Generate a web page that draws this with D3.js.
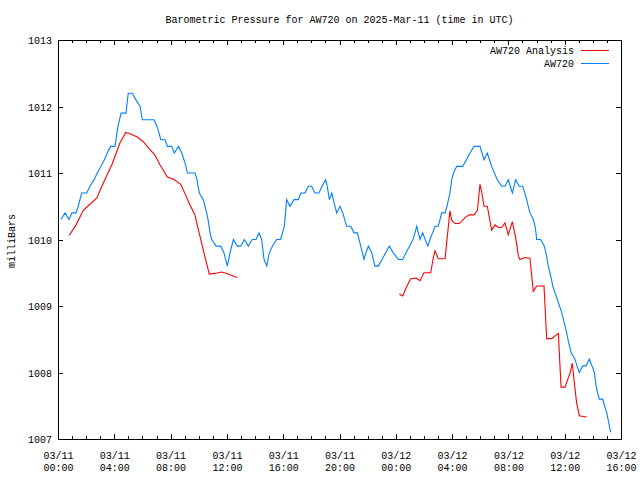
<!DOCTYPE html>
<html><head><meta charset="utf-8">
<script src="https://cdn.jsdelivr.net/npm/d3@7"></script>
<style>
body{margin:0;background:#fff;}
text{font-family:"Liberation Mono","DejaVu Sans Mono",monospace;font-size:10px;fill:#000;}
</style></head>
<body><svg id="c" width="640" height="480"></svg>
<script>
const title = "Barometric Pressure for AW720 on 2025-Mar-11 (time in UTC)";
const yLabel = "milliBars";
const seriesNames = ["AW720 Analysis", "AW720"];
const seriesColors = ["#ff0000", "#0080ff"];
const xTickHours = [0,4,8,12,16,20,24,28,32,36,40];
const xTickDates = ["03/11","03/11","03/11","03/11","03/11","03/11","03/12","03/12","03/12","03/12","03/12"];
const xTickTimes = ["00:00","04:00","08:00","12:00","16:00","20:00","00:00","04:00","08:00","12:00","16:00"];
const yTicks = [1007,1008,1009,1010,1011,1012,1013];

// AW720 station (hours since 03/11 00:00 UTC)
const blueHours = [0.21,0.50,0.78,0.99,1.28,1.44,1.68,2.04,2.27,2.56,2.79,3.06,3.29,3.50,3.74,4.05,4.26,4.48,4.83,4.99,5.28,5.54,5.83,5.99,6.82,7.03,7.18,7.30,7.60,7.77,8.08,8.26,8.55,8.79,8.95,9.09,9.19,9.73,9.88,9.95,10.04,10.32,10.44,10.56,10.66,10.73,10.80,10.92,11.23,11.56,11.79,11.91,12.03,12.22,12.46,12.74,12.98,13.24,13.52,13.80,14.07,14.28,14.47,14.64,14.83,15.01,15.23,15.54,15.82,16.08,16.25,16.48,16.77,17.07,17.26,17.55,17.78,18.02,18.26,18.54,18.76,19.02,19.13,19.28,19.45,19.56,19.80,20.04,20.23,20.37,20.51,20.80,21.03,21.27,21.51,21.74,21.88,22.05,22.29,22.52,22.76,23.02,23.28,23.54,23.82,24.18,24.49,24.73,24.97,25.22,25.36,25.49,25.72,25.91,26.27,26.43,26.61,26.79,27.02,27.26,27.50,27.64,27.74,27.85,27.97,28.10,28.33,28.75,29.02,29.27,29.56,29.98,30.27,30.50,30.81,31.01,31.21,31.52,31.76,31.99,32.28,32.52,32.77,33.02,33.16,33.30,33.41,33.53,33.77,33.89,33.96,34.01,34.29,34.55,34.67,34.75,34.83,34.95,35.06,35.15,35.31,35.47,35.63,35.79,35.91,36.02,36.14,36.23,36.34,36.45,36.73,36.87,37.04,37.28,37.51,37.75,37.94,38.11,38.23,38.33,38.46,38.70,38.83,38.98,39.08,39.17,39.27];
const bluePressure = [1010.3,1010.4,1010.3,1010.4,1010.4,1010.5,1010.7,1010.7,1010.8,1010.9,1011.0,1011.1,1011.2,1011.3,1011.4,1011.4,1011.7,1011.9,1011.9,1012.2,1012.2,1012.1,1012.0,1011.8,1011.8,1011.7,1011.6,1011.5,1011.5,1011.4,1011.4,1011.3,1011.4,1011.3,1011.2,1011.1,1011.0,1011.0,1010.9,1010.8,1010.7,1010.6,1010.5,1010.4,1010.3,1010.2,1010.1,1010.0,1009.9,1009.9,1009.8,1009.7,1009.6,1009.8,1010.0,1009.9,1009.9,1010.0,1009.9,1010.0,1010.0,1010.1,1010.0,1009.7,1009.6,1009.8,1009.9,1010.0,1010.0,1010.2,1010.6,1010.5,1010.6,1010.6,1010.7,1010.7,1010.8,1010.8,1010.7,1010.7,1010.8,1010.9,1010.8,1010.6,1010.7,1010.6,1010.4,1010.5,1010.4,1010.3,1010.2,1010.2,1010.1,1010.1,1009.9,1009.7,1009.8,1009.9,1009.8,1009.6,1009.6,1009.7,1009.8,1009.9,1009.8,1009.7,1009.7,1009.8,1009.9,1010.0,1010.1,1010.2,1010.0,1010.1,1009.9,1010.0,1010.1,1010.2,1010.2,1010.4,1010.4,1010.5,1010.6,1010.7,1010.9,1011.0,1011.1,1011.1,1011.2,1011.3,1011.4,1011.4,1011.2,1011.3,1011.1,1011.0,1010.9,1010.8,1010.8,1010.9,1010.7,1010.9,1010.8,1010.8,1010.7,1010.6,1010.5,1010.4,1010.3,1010.2,1010.1,1010.0,1010.0,1009.9,1009.8,1009.7,1009.6,1009.5,1009.4,1009.3,1009.2,1009.1,1009.0,1008.9,1008.8,1008.7,1008.6,1008.5,1008.4,1008.3,1008.2,1008.1,1008.0,1008.1,1008.1,1008.2,1008.1,1008.0,1007.8,1007.7,1007.6,1007.6,1007.5,1007.4,1007.3,1007.2,1007.1];

// AW720 Analysis (null = gap)
const redHours = [0.80,1.28,1.80,2.27,2.75,3.22,3.82,4.40,4.81,5.12,5.63,6.06,6.54,6.89,7.25,7.77,8.19,8.72,9.02,9.38,9.73,10.04,10.44,10.75,11.15,11.63,11.99,12.34,12.74,18.0,24.25,24.49,24.77,25.06,25.44,25.72,26.00,26.48,26.66,26.79,27.02,27.50,27.73,27.85,27.97,28.21,28.51,28.92,29.22,29.56,29.80,29.98,30.10,30.27,30.50,30.64,30.81,31.05,31.28,31.52,31.76,31.99,32.28,32.52,32.71,32.82,33.18,33.53,33.77,34.01,34.53,34.72,35.08,35.55,35.74,36.02,36.38,36.54,36.66,36.85,37.04,37.56];
const redPressure = [1010.06,1010.22,1010.44,1010.53,1010.62,1010.85,1011.12,1011.45,1011.61,1011.59,1011.54,1011.47,1011.35,1011.27,1011.12,1010.94,1010.91,1010.83,1010.69,1010.52,1010.37,1010.09,1009.74,1009.48,1009.49,1009.51,1009.49,1009.46,1009.43,null,1009.18,1009.15,1009.29,1009.41,1009.42,1009.38,1009.50,1009.50,1009.72,1009.83,1009.71,1009.71,1010.19,1010.43,1010.29,1010.24,1010.24,1010.33,1010.37,1010.37,1010.44,1010.83,1010.72,1010.50,1010.50,1010.34,1010.14,1010.22,1010.18,1010.18,1010.25,1010.07,1010.27,1010.02,1009.75,1009.70,1009.73,1009.72,1009.22,1009.30,1009.30,1008.51,1008.51,1008.59,1007.78,1007.78,1007.99,1008.14,1007.89,1007.54,1007.35,1007.33];

const L = 58, R = 621, T = 40, B = 439;
const svg = d3.select("#c");
svg.append("rect").attr("width",640).attr("height",480).attr("fill","#fff");

const x = d3.scaleLinear().domain([0,40]).range([L,R]);
const y = d3.scaleLinear().domain([1007,1013]).range([B,T]);

const g = svg.append("g").attr("shape-rendering","crispEdges");

// minor x ticks (hourly)
const minor = d3.range(0,41);
g.append("g").attr("transform",`translate(0,${B})`)
  .call(d3.axisBottom(x).tickValues(minor).tickSizeInner(-3).tickSizeOuter(0).tickFormat(""));
g.append("g").attr("transform",`translate(0,${T})`)
  .call(d3.axisTop(x).tickValues(minor).tickSizeInner(-3).tickSizeOuter(0).tickFormat(""));

// major x ticks
const xb = g.append("g").attr("transform",`translate(0,${B})`)
  .call(d3.axisBottom(x).tickValues(xTickHours).tickSizeInner(-5).tickSizeOuter(0).tickPadding(10).tickFormat(""));
g.append("g").attr("transform",`translate(0,${T})`)
  .call(d3.axisTop(x).tickValues(xTickHours).tickSizeInner(-5).tickSizeOuter(0).tickFormat(""));
xb.selectAll(".tick").each(function(d,i){
  const t = d3.select(this).select("text");
  t.attr("y",null).attr("dy",null).attr("text-anchor","middle");
  t.append("tspan").attr("x",0).attr("y",20).text(xTickDates[i]);
  t.append("tspan").attr("x",0).attr("y",32).text(xTickTimes[i]);
});

// y ticks
g.append("g").attr("transform",`translate(${L},0)`)
  .call(d3.axisLeft(y).tickValues(yTicks).tickSizeInner(-5).tickSizeOuter(0).tickPadding(6).tickFormat(d3.format("d")))
  .selectAll("text").attr("dy","0.35em");
g.append("g").attr("transform",`translate(${R},0)`)
  .call(d3.axisRight(y).tickValues(yTicks).tickSizeInner(-5).tickSizeOuter(0).tickFormat(""));

svg.selectAll(".domain").remove();
svg.selectAll(".tick line").attr("stroke","#000");
svg.selectAll(".tick text").style("font-family",'"Liberation Mono","DejaVu Sans Mono",monospace').style("font-size","10px").attr("fill","#000");

// frame
g.append("rect").attr("x",L).attr("y",T).attr("width",R-L).attr("height",B-T)
  .attr("fill","none").attr("stroke","#000").attr("stroke-width",1);

// data lines
const blue = blueHours.map((h,i)=>({h, v: bluePressure[i]}));
const red = redHours.map((h,i)=>({h, v: redPressure[i]}));
const line = d3.line().defined(d=>d.v!=null).x(d=>x(d.h)).y(d=>y(d.v));
svg.append("path").datum(red).attr("d",line).attr("fill","none").attr("stroke",seriesColors[0]).attr("stroke-width",1.1);
svg.append("path").datum(blue).attr("d",line).attr("fill","none").attr("stroke",seriesColors[1]).attr("stroke-width",1.1);

// title
svg.append("text").attr("x",(L+R)/2).attr("y",23).attr("text-anchor","middle").text(title);
// y label
svg.append("text").attr("transform","translate(15,241) rotate(-90)").attr("text-anchor","middle").text(yLabel);

// legend
const leg = svg.append("g");
seriesNames.forEach((n,i)=>{
  const yy = 50 + i*13;
  leg.append("text").attr("x",574).attr("y",yy).attr("dy","0.35em").attr("text-anchor","end").text(n);
  leg.append("line").attr("x1",581).attr("x2",609).attr("y1",yy+0.5).attr("y2",yy+0.5)
    .attr("stroke",seriesColors[i]).attr("stroke-width",1);
});
</script></body></html>
